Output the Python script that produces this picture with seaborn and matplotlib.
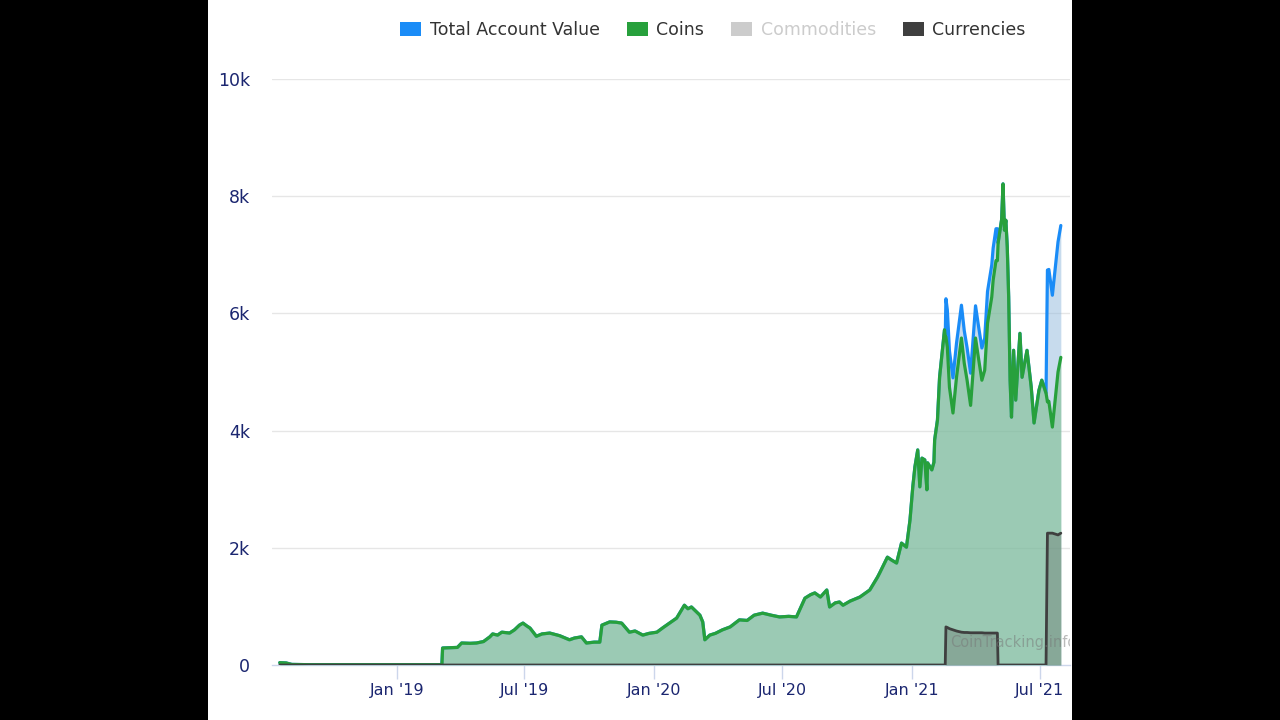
import matplotlib
matplotlib.use("Agg")
import matplotlib.pyplot as plt
from matplotlib.patches import Rectangle, Patch
import seaborn as sns
import pandas as pd

dates = [
    "2018-07-19", "2018-07-28", "2018-08-05", "2018-09-01", "2019-03-06", "2019-03-07",
    "2019-03-28", "2019-04-03", "2019-04-15", "2019-04-24", "2019-05-04", "2019-05-13",
    "2019-05-17", "2019-05-24", "2019-05-30", "2019-06-10", "2019-06-17", "2019-06-24",
    "2019-06-29", "2019-07-04", "2019-07-09", "2019-07-18", "2019-07-26", "2019-08-06",
    "2019-08-20", "2019-09-03", "2019-09-10", "2019-09-20", "2019-09-27", "2019-10-08",
    "2019-10-16", "2019-10-19", "2019-10-30", "2019-11-08", "2019-11-16", "2019-11-27",
    "2019-12-05", "2019-12-16", "2019-12-25", "2020-01-05", "2020-01-14", "2020-01-23",
    "2020-02-02", "2020-02-13", "2020-02-18", "2020-02-23", "2020-03-06", "2020-03-10",
    "2020-03-13", "2020-03-20", "2020-03-28", "2020-04-07", "2020-04-18", "2020-05-01",
    "2020-05-12", "2020-05-22", "2020-06-03", "2020-06-15", "2020-06-27", "2020-07-10",
    "2020-07-21", "2020-08-02", "2020-08-10", "2020-08-16", "2020-08-24", "2020-09-02",
    "2020-09-06", "2020-09-14", "2020-09-20", "2020-09-25", "2020-10-05", "2020-10-19",
    "2020-11-02", "2020-11-13", "2020-11-16", "2020-11-23", "2020-11-27", "2020-12-03",
    "2020-12-10", "2020-12-17", "2020-12-24", "2020-12-29", "2021-01-02", "2021-01-05",
    "2021-01-09", "2021-01-12", "2021-01-15", "2021-01-19", "2021-01-22", "2021-01-23",
    "2021-01-29", "2021-02-01", "2021-02-02", "2021-02-06", "2021-02-09", "2021-02-16",
    "2021-02-17", "2021-02-18", "2021-02-20", "2021-02-23", "2021-02-28", "2021-03-05",
    "2021-03-12", "2021-03-16", "2021-03-20", "2021-03-25", "2021-04-01", "2021-04-05",
    "2021-04-10", "2021-04-14", "2021-04-18", "2021-04-24", "2021-04-26", "2021-04-30",
    "2021-05-02", "2021-05-03", "2021-05-08", "2021-05-10", "2021-05-12", "2021-05-14",
    "2021-05-16", "2021-05-18", "2021-05-20", "2021-05-22", "2021-05-25", "2021-05-28",
    "2021-06-03", "2021-06-06", "2021-06-13", "2021-06-19", "2021-06-23", "2021-06-30",
    "2021-07-04", "2021-07-10", "2021-07-12", "2021-07-14", "2021-07-19", "2021-07-27",
    "2021-07-31",
]

coins = [
    40, 35, 10, 5, 5, 290,
    300, 375, 370, 375, 400, 480,
    530, 510, 560, 545, 600, 680,
    715, 670, 630, 490, 530, 545,
    500, 430, 460, 480, 375, 390,
    390, 680, 735, 730, 715, 560,
    580, 510, 540, 560, 640, 715,
    800, 1020, 960, 990, 850, 735,
    430, 510, 540, 600, 650, 770,
    760, 850, 885, 850, 820, 830,
    820, 1140, 1200, 1230, 1160, 1280,
    990, 1060, 1075, 1020, 1090, 1160,
    1280, 1500, 1570, 1740, 1840, 1790,
    1740, 2080, 2010, 2470, 3040, 3380,
    3670, 3040, 3530, 3500, 2990, 3450,
    3330, 3460, 3840, 4180, 4910, 5720,
    5600, 5600, 5420, 4740, 4300, 4910,
    5580, 5150, 4860, 4430, 5580, 5250,
    4860, 5030, 5830, 6280, 6570, 6900,
    6900, 7200, 7600, 8210, 7420, 7590,
    7130, 6280, 4860, 4230, 5370, 4520,
    5660, 4910, 5370, 4740, 4130, 4690,
    4860, 4640, 4490, 4500, 4060, 5000,
    5250,
]

currencies = [
    0, 0, 0, 0, 0, 0,
    0, 0, 0, 0, 0, 0,
    0, 0, 0, 0, 0, 0,
    0, 0, 0, 0, 0, 0,
    0, 0, 0, 0, 0, 0,
    0, 0, 0, 0, 0, 0,
    0, 0, 0, 0, 0, 0,
    0, 0, 0, 0, 0, 0,
    0, 0, 0, 0, 0, 0,
    0, 0, 0, 0, 0, 0,
    0, 0, 0, 0, 0, 0,
    0, 0, 0, 0, 0, 0,
    0, 0, 0, 0, 0, 0,
    0, 0, 0, 0, 0, 0,
    0, 0, 0, 0, 0, 0,
    0, 0, 0, 0, 0, 0,
    0, 650, 640, 620, 600, 580,
    560, 555, 555, 550, 550, 550,
    550, 545, 545, 545, 545, 545,
    545, 0, 0, 0, 0, 0,
    0, 0, 0, 0, 0, 0,
    0, 0, 0, 0, 0, 0,
    0, 0, 2250, 2250, 2250, 2220,
    2250,
]

commodities = [0] * len(dates)

series_names = ["Total Account Value", "Coins", "Commodities", "Currencies"]
y_ticks = [0, 2000, 4000, 6000, 8000, 10000]
y_labels = ["0", "2k", "4k", "6k", "8k", "10k"]
x_ticks = ["2019-01-01", "2019-07-01", "2020-01-01", "2020-07-01", "2021-01-01", "2021-07-01"]
x_labels = ["Jan '19", "Jul '19", "Jan '20", "Jul '20", "Jan '21", "Jul '21"]

df = pd.DataFrame({
    "date": pd.to_datetime(dates),
    "coins": coins,
    "currencies": currencies,
    "commodities": commodities,
})
df["total"] = df["coins"] + df["currencies"] + df["commodities"]

sns.set_theme(style="white")
plt.rcParams["font.family"] = ["DejaVu Sans"]

fig = plt.figure(figsize=(12.8, 7.2), dpi=100, facecolor="black")
bg = Rectangle((208 / 1280, 0), 864 / 1280, 1, transform=fig.transFigure,
               facecolor="white", edgecolor="none", zorder=-10)
fig.add_artist(bg)
ax = fig.add_axes([272 / 1280, 55 / 720, 798 / 1280, 586 / 720])
ax.set_zorder(1)
ax.set_facecolor("none")

blue = "#1a8cf7"
green = "#27a03c"
dark = "#3f3f3f"
grey = "#cccccc"

ax.fill_between(df["date"], 0, df["total"], color="#91b9dd", alpha=0.5, linewidth=0, zorder=2)
sns.lineplot(data=df, x="date", y="total", ax=ax, color=blue, linewidth=2.3, zorder=3)
ax.fill_between(df["date"], 0, df["coins"], color="#70ba7c", alpha=0.5, linewidth=0, zorder=4)
sns.lineplot(data=df, x="date", y="coins", ax=ax, color=green, linewidth=2.3, zorder=5)
ax.fill_between(df["date"], 0, df["currencies"], color="#5a5a5a", alpha=0.3, linewidth=0, zorder=6)
sns.lineplot(data=df, x="date", y="currencies", ax=ax, color=dark, linewidth=2.0, zorder=7)

ax.set_xlim(pd.Timestamp("2018-07-08"), pd.Timestamp("2021-08-13"))
ax.set_ylim(0, 10000)
ax.set_yticks(y_ticks)
ax.set_yticklabels(y_labels)
ax.set_xticks(pd.to_datetime(x_ticks))
ax.set_xticklabels(x_labels)
ax.set_xlabel("")
ax.set_ylabel("")

for v in y_ticks[1:]:
    ax.axhline(v, color="#e6e6e6", linewidth=1.0, zorder=1)

for s in ["top", "left", "right"]:
    ax.spines[s].set_visible(False)
ax.spines["bottom"].set_color("#ccd6eb")
ax.spines["bottom"].set_linewidth(1.0)
ax.spines["bottom"].set_zorder(1)

navy = "#1b2670"
ax.tick_params(axis="y", length=0, pad=16, labelsize=12.5, labelcolor=navy)
ax.tick_params(axis="x", length=10, width=1, color="#ccd6eb", pad=3, labelsize=11.5,
               labelcolor=navy, bottom=True)

ax.text(1.008, 0.038, "CoinTracking.info", transform=ax.transAxes, ha="right", va="center",
        fontsize=10.5, color="#777777", alpha=0.5, zorder=8, clip_on=True)

handles = [Patch(facecolor=blue, edgecolor="none"),
           Patch(facecolor=green, edgecolor="none"),
           Patch(facecolor=grey, edgecolor="none"),
           Patch(facecolor=dark, edgecolor="none")]
leg = fig.legend(handles, series_names, loc="center", bbox_to_anchor=(713 / 1280, 1 - 30 / 720),
                 ncol=4, frameon=False, fontsize=12.5, handlelength=1.2, handleheight=0.9,
                 handletextpad=0.5, columnspacing=1.55)
for t in leg.get_texts():
    t.set_color("#333333")
leg.get_texts()[2].set_color(grey)

fig.savefig("out.png", dpi=100, facecolor=fig.get_facecolor())
